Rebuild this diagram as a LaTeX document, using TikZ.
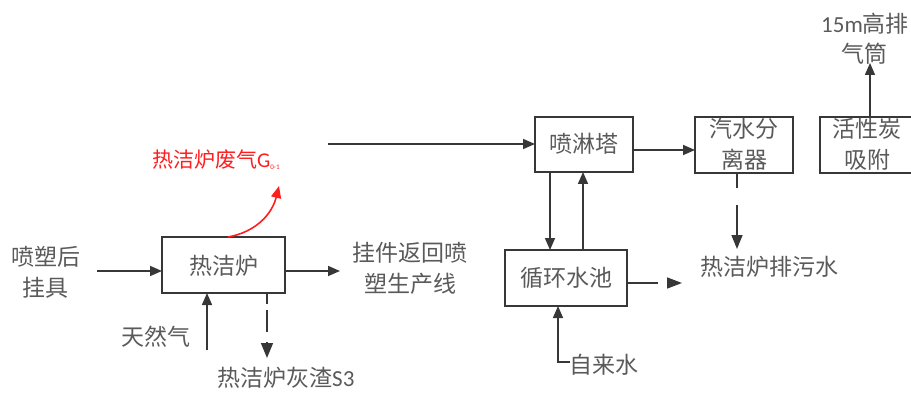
\documentclass[tikz,border=0pt]{standalone}
\usepackage{fontspec}
\setmainfont{Carlito}
\newfontfamily\cjk{Noto Sans CJK SC}
\usetikzlibrary{arrows.meta}
\definecolor{ln}{RGB}{55,55,55}
\definecolor{tx}{RGB}{90,90,90}
\definecolor{rd}{RGB}{255,30,30}
\begin{document}
\begin{tikzpicture}[x=1pt,y=-1pt,
  box/.style={draw=ln,line width=1.8pt,fill=white},
  lbl/.style={text=tx,font=\fontsize{23}{31}\selectfont\cjk,inner sep=0pt,align=center},
  tip/.style={-{Triangle[length=12pt,width=10pt]}},
  flow/.style={draw=ln,line width=1.6pt,tip}]
\useasboundingbox (0,0) rectangle (911,393);
\begin{scope}
\clip (0,0) rectangle (911,393);
% boxes
\draw[box] (162,237) rectangle (285,293);
\node[lbl] (furnace) at (223.5,266) {热洁炉};
\draw[box] (535,117) rectangle (633,172);
\node[lbl] (spray) at (584,144) {喷淋塔};
\draw[box] (505,250) rectangle (627,306);
\node[lbl] (pool) at (566,278) {循环水池};
\draw[box] (695,117) rectangle (793,173);
\node[lbl] (sep) at (744,144) {汽水分\\离器};
\draw[box] (820,117) rectangle (918,173);
\node[lbl] (carbon) at (867,144) {活性炭\\吸附};
% labels
\node[lbl] (hook) at (46,272) {喷塑后\\挂具};
\node[lbl] (ret) at (410,268) {挂件返回喷\\塑生产线};
\node[lbl] (gas) at (156,337) {天然气};
\node[lbl,anchor=west] (ash) at (217,378) {热洁炉灰渣\fontspec{Carlito}S3};
\node[lbl,text=rd,anchor=west,font=\fontsize{21}{26}\selectfont\cjk] (waste) at (152,160) {热洁炉废气\fontspec{Carlito}G\raisebox{-2pt}{\fontsize{7}{8}\selectfont 0-1}};
\node[lbl] (tap) at (604,365) {自来水};
\node[lbl,anchor=west] (drain) at (700,267) {热洁炉排污水};
\node[lbl,anchor=west] (stack) at (821,24) {\fontspec{Carlito}15m{\cjk 高排}};
\node[lbl] (stack2) at (864,54) {气筒};
% helper coordinates
\coordinate (hookE) at (97,271);
\coordinate (furnW) at (162,271);
\coordinate (furnE) at (285,271);
\coordinate (retW) at (340,271);
\coordinate (gasS) at (207,350);
\coordinate (furnS1) at (207,293);
\coordinate (furnS2) at (267,293);
\coordinate (ashN) at (267,358);
\coordinate (redS) at (228,237);
\coordinate (redE) at (279,186);
\coordinate (lineS) at (328,144);
\coordinate (sprayW) at (535,144);
\coordinate (sprayE) at (633,150);
\coordinate (sepW) at (695,150);
\coordinate (sprayS1) at (550,172);
\coordinate (poolN1) at (550,250);
\coordinate (poolN2) at (583,250);
\coordinate (sprayS2) at (583,172);
\coordinate (poolE) at (627,283);
\coordinate (poolOut) at (682,283);
\coordinate (tapW) at (570,362);
\coordinate (poolS) at (558,306);
\coordinate (sepS) at (737,173);
\coordinate (drainN) at (737,249);
\coordinate (carbonN) at (870,117);
\coordinate (stackS) at (870,63);
% connectors
\draw[flow] (hookE) -- (furnW);
\draw[flow] (furnE) -- (retW);
\draw[flow] (gasS) -- (furnS1);
\draw[flow,-{Triangle[length=15pt,width=12pt]},dash pattern=on 11pt off 6pt on 22pt off 10pt] (furnS2) -- (ashN);
\draw[draw=rd,line width=1.6pt,tip] (redS) .. controls (256,232) and (272,214) .. (redE);
\draw[flow] (lineS) -- (sprayW);
\draw[flow] (sprayE) -- (sepW);
\draw[flow] (sprayS1) -- (poolN1);
\draw[flow] (poolN2) -- (sprayS2);
\draw[flow,-{Triangle[length=15pt,width=11pt]},dash pattern=on 31pt off 9pt] (poolE) -- (poolOut);
\draw[flow] (tapW) -| (poolS);
\draw[flow,-{Triangle[length=14pt,width=11pt]},dash pattern=on 15pt off 17pt on 40pt] (sepS) -- (drainN);
\draw[flow] (carbonN) -- (stackS);
\end{scope}
\end{tikzpicture}
\end{document}
